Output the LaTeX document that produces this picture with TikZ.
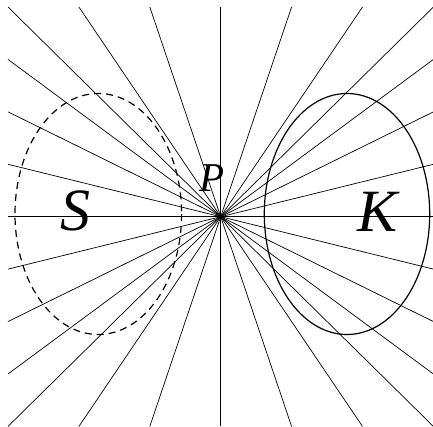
\documentclass[tikz,border=0pt]{standalone}
\usepackage{fontspec}
\setmainfont{Liberation Serif}
\usetikzlibrary{calc}
\begin{document}
\begin{tikzpicture}[x=1pt,y=-1pt,
  ray/.style={line width=0.7pt, black},
  curve/.style={line width=1.2pt, black},
  dashcurve/.style={line width=1.2pt, black, dash pattern=on 7pt off 5pt},
  biglabel/.style={inner sep=0pt, font=\fontsize{60}{60}\selectfont\itshape},
  plabel/.style={inner sep=0pt, font=\fontsize{41}{41}\selectfont\itshape}]
\useasboundingbox (0,0) rectangle (433,426);
\clip (0,0) rectangle (433,426);
\coordinate (P) at (220.7,216.7);
\def\ha{70.9}
\def\hb{209.7}
\foreach \k in {-3,...,3} {
  \draw[ray] ($(P)+(\k*\ha,-\hb)$) coordinate (t\k) -- (P) -- ($(P)+(-\k*\ha,\hb)$) coordinate (b\k);
}
\foreach \j in {-3,...,3} {
  \draw[ray] ($(P)+(-3*\ha,\j*\hb/4)$) coordinate (l\j) -- (P) -- ($(P)+(3*\ha,-\j*\hb/4)$) coordinate (r\j);
}
\draw[dashcurve] (98.3,214) ellipse [x radius=83.3, y radius=120.5];
\draw[curve] (347,214) ellipse [x radius=82.7, y radius=120.5];
\node[plabel] (plab) at (212.5,178.5) {P};
\node[biglabel] (slab) at (75,211) {S};
\node[biglabel] (klab) at (378,212) {K};
\end{tikzpicture}
\end{document}
